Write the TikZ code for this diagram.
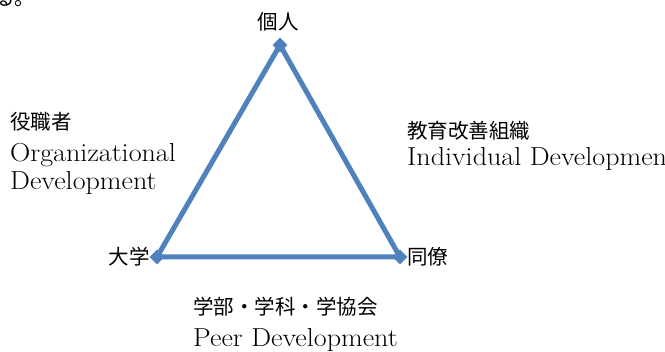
\documentclass[tikz,border=0pt]{standalone}
\usepackage{fontspec}
\newfontfamily\jp{Noto Sans CJK JP}
\newfontfamily\wideroman[FakeStretch=1.08]{Latin Modern Roman}
\usetikzlibrary{shapes.geometric}
\definecolor{tri}{HTML}{4F81BD}
\tikzset{
  lbl/.style={inner sep=0pt, font=\jp\fontsize{20.5}{30}\selectfont},
  lat/.style={inner sep=0pt, font=\wideroman\fontsize{26}{30}\selectfont},
  vmark/.style={diamond, fill=tri, inner sep=0pt, minimum size=15pt},
}
\begin{document}
\begin{tikzpicture}[x=1pt,y=-1pt]
\useasboundingbox (0,0) rectangle (665,352);
\clip (0,0) rectangle (665,352);
\fill[white] (0,0) rectangle (665,352);
% clipped fragment of a preceding line
\node[lbl, anchor=base west] (frag) at (-6,6) {る。};
% vertices
\coordinate (T) at (280,45);
\coordinate (L) at (157,257);
\coordinate (R) at (400,257);
\draw[tri, line width=5pt, line join=round] (T) -- (L) -- (R) -- cycle;
\node[vmark] (vt) at (T) {};
\node[vmark] (vl) at (L) {};
\node[vmark] (vr) at (R) {};
% vertex labels
\node[lbl, anchor=base] (kojin) at (278,30) {個人};
\node[lbl, anchor=base east] (daigaku) at (150,265) {大学};
\node[lbl, anchor=base west] (doryo) at (407,265) {同僚};
% side labels
\node[lbl, anchor=base west] (yaku1) at (10,130) {役職者};
\node[lat, anchor=base west] (yaku2) at (10,162) {Organizational};
\node[lat, anchor=base west] (yaku3) at (10,190) {Development};
\node[lbl, anchor=base west] (kyo1) at (407,139) {教育改善組織};
\node[lat, anchor=base west] (kyo2) at (407,166) {Individual Development};
\node[lbl, anchor=base west] (gak1) at (193,315) {学部・学科・学協会};
\node[lat, anchor=base west] (gak2) at (193,347) {Peer Development};
\end{tikzpicture}
\end{document}
